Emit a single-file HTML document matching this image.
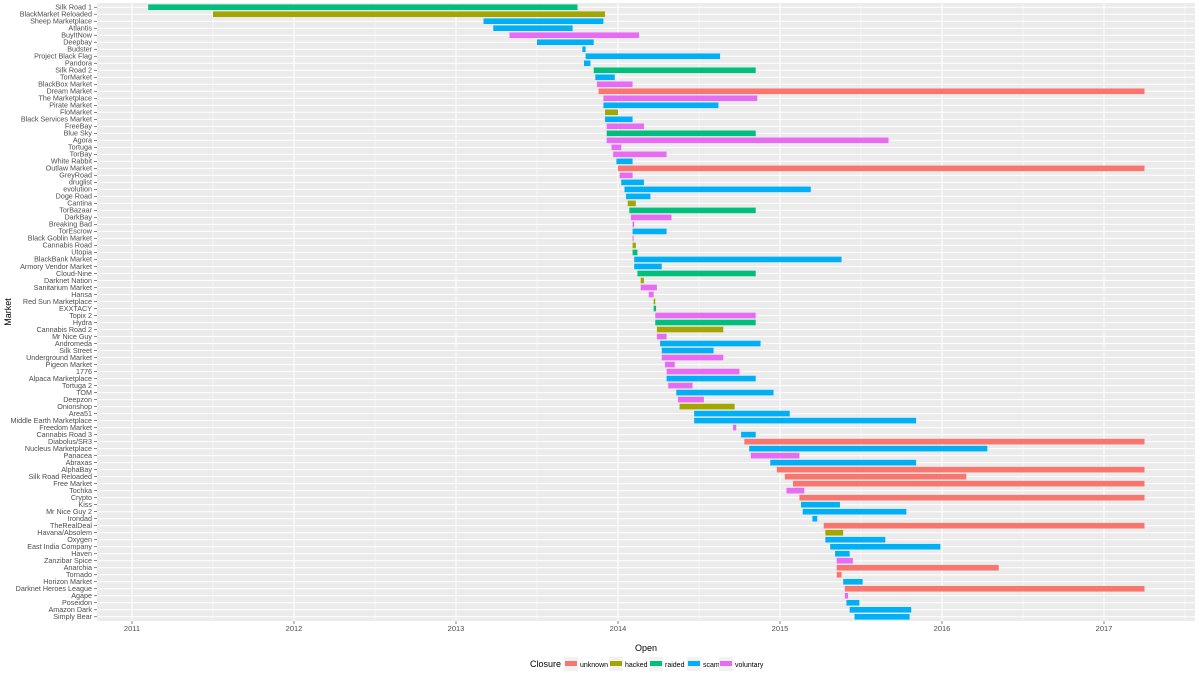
<!DOCTYPE html>
<html><head><meta charset="utf-8"><style>
body{margin:0;background:#fff;font-family:"Liberation Sans",sans-serif}
svg text{font-family:"Liberation Sans",sans-serif}
</style></head><body>
<svg id="chart" width="1200" height="680" xmlns="http://www.w3.org/2000/svg"></svg>
<script>
const markets=["Silk Road 1","BlackMarket Reloaded","Sheep Marketplace","Atlantis","BuyItNow","Deepbay","Budster","Project Black Flag","Pandora","Silk Road 2","TorMarket","BlackBox Market","Dream Market","The Marketplace","Pirate Market","FloMarket","Black Services Market","FreeBay","Blue Sky","Agora","Tortuga","TorBay","White Rabbit","Outlaw Market","GreyRoad","druglist","evolution","Doge Road","Cantina","TorBazaar","DarkBay","Breaking Bad","TorEscrow","Black Goblin Market","Cannabis Road","Utopia","BlackBank Market","Armory Vendor Market","Cloud-Nine","Darknet Nation","Sanitarium Market","Hansa","Red Sun Marketplace","EXXTACY","Topix 2","Hydra","Cannabis Road 2","Mr Nice Guy","Andromeda","Silk Street","Underground Market","Pigeon Market","1776","Alpaca Marketplace","Tortuga 2","TOM","Deepzon","Onionshop","Area51","Middle Earth Marketplace","Freedom Market","Cannabis Road 3","Diabolus/SR3","Nucleus Marketplace","Panacea","Abraxas","AlphaBay","Silk Road Reloaded","Free Market","Tochka","Crypto","Kiss","Mr Nice Guy 2","Irondad","TheRealDeal","Havana/Absolem","Oxygen","East India Company","Haven","Zanzibar Spice","Anarchia","Tornado","Horizon Market","Darknet Heroes League","Agape","Poseidon","Amazon Dark","Simply Bear"];
const openYear=[2011.10,2011.50,2013.17,2013.23,2013.33,2013.50,2013.78,2013.80,2013.79,2013.85,2013.86,2013.87,2013.88,2013.91,2013.91,2013.92,2013.92,2013.93,2013.93,2013.93,2013.96,2013.97,2013.99,2014.00,2014.01,2014.02,2014.04,2014.05,2014.06,2014.07,2014.08,2014.09,2014.09,2014.09,2014.09,2014.09,2014.10,2014.10,2014.12,2014.14,2014.14,2014.19,2014.22,2014.22,2014.23,2014.23,2014.24,2014.24,2014.26,2014.27,2014.27,2014.29,2014.30,2014.30,2014.31,2014.36,2014.37,2014.38,2014.47,2014.47,2014.71,2014.76,2014.78,2014.81,2014.82,2014.94,2014.98,2015.03,2015.08,2015.04,2015.12,2015.13,2015.14,2015.20,2015.27,2015.28,2015.28,2015.31,2015.34,2015.35,2015.35,2015.35,2015.39,2015.40,2015.40,2015.41,2015.43,2015.46];
const closeYear=[2013.75,2013.92,2013.91,2013.72,2014.13,2013.85,2013.80,2014.63,2013.83,2014.85,2013.98,2014.09,2017.25,2014.86,2014.62,2014.00,2014.09,2014.16,2014.85,2015.67,2014.02,2014.30,2014.09,2017.25,2014.09,2014.16,2015.19,2014.20,2014.11,2014.85,2014.33,2014.10,2014.30,2014.095,2014.11,2014.12,2015.38,2014.27,2014.85,2014.16,2014.24,2014.22,2014.23,2014.235,2014.85,2014.85,2014.65,2014.30,2014.88,2014.59,2014.65,2014.35,2014.75,2014.85,2014.46,2014.96,2014.53,2014.72,2015.06,2015.84,2014.73,2014.85,2017.25,2016.28,2015.12,2015.84,2017.25,2016.15,2017.25,2015.15,2017.25,2015.37,2015.78,2015.23,2017.25,2015.39,2015.65,2015.99,2015.43,2015.45,2016.35,2015.38,2015.51,2017.25,2015.42,2015.49,2015.81,2015.80];
const closure=["raided","hacked","scam","scam","voluntary","scam","scam","scam","scam","raided","scam","voluntary","unknown","voluntary","scam","hacked","scam","voluntary","raided","voluntary","voluntary","voluntary","scam","unknown","voluntary","scam","scam","scam","hacked","raided","voluntary","voluntary","scam","voluntary","hacked","raided","scam","scam","raided","hacked","voluntary","voluntary","hacked","raided","voluntary","raided","hacked","voluntary","scam","scam","voluntary","voluntary","voluntary","scam","voluntary","scam","voluntary","hacked","scam","scam","voluntary","scam","unknown","scam","voluntary","scam","unknown","unknown","unknown","voluntary","unknown","scam","scam","scam","unknown","hacked","scam","scam","scam","voluntary","unknown","unknown","scam","unknown","voluntary","scam","scam","scam"];
const closureTypes=["unknown","hacked","raided","scam","voluntary"];
const tickYears=[2011,2012,2013,2014,2015,2016,2017];

const colors={unknown:"#F8766D",hacked:"#A3A500",raided:"#00BF7D",scam:"#00B0F6",voluntary:"#E76BF3"};
const svg=document.getElementById('chart');
const NS="http://www.w3.org/2000/svg";
function mk(tag,attrs,parent){const e=document.createElementNS(NS,tag);for(const k in attrs)e.setAttribute(k,attrs[k]);(parent||svg).appendChild(e);return e;}
const PL=97,PR=1195,PT=3,PB=621;
const x=v=>132+(v-2011)*162;
const rowStep=(PB-PT)/(markets.length+0.2);
const y=i=>PT+rowStep*(i+0.6);

const panel=mk('rect',{x:PL,y:PT,width:PR-PL,height:PB-PT,fill:'#EBEBEB'});


for(let t=2010.5;t<=2017.5;t+=0.5){const px=x(t);if(px<PL||px>PR)continue;
 const major=Number.isInteger(t);
 const g=mk('line',{x1:px,x2:px,y1:PT,y2:PB,stroke:'#fff','stroke-width':major?1.1:0.5});
 
 }
markets.forEach((m,i)=>{const g=mk('line',{x1:PL,x2:PR,y1:y(i),y2:y(i),stroke:'#fff','stroke-width':1});
 
 });
markets.forEach((m,i)=>{
 const x0=x(openYear[i]),x1=x(closeYear[i]);
 const r=mk('rect',{x:x0,y:y(i)-2.8,width:Math.max(1,x1-x0),height:5.6,fill:colors[closure[i]]});
 
 
 const t=mk('text',{x:PL-5,y:y(i)+2.3,'text-anchor':'end','font-size':7.2,fill:'#4D4D4D'});
 t.textContent=m;
 
 
 mk('line',{x1:PL-3,x2:PL,y1:y(i),y2:y(i),stroke:'#333','stroke-width':0.6});
});
tickYears.forEach(v=>{
 mk('line',{x1:x(v),x2:x(v),y1:PB,y2:PB+3,stroke:'#333','stroke-width':0.6});
 const t=mk('text',{x:x(v),y:PB+10,'text-anchor':'middle','font-size':7.5,fill:'#4D4D4D'});
 t.textContent=v;
 
 
});
let t=mk('text',{x:(PL+PR)/2,y:651,'text-anchor':'middle','font-size':9,fill:'#000'});t.textContent='Open';


t=mk('text',{x:11,y:(PT+PB)/2,'text-anchor':'middle','font-size':9,fill:'#000',transform:`rotate(-90 11 ${(PT+PB)/2})`});t.textContent='Market';


t=mk('text',{x:530,y:667,'font-size':9,fill:'#000'});t.textContent='Closure';


const lx=[564,609,649,687,719];
closureTypes.forEach((c,i)=>{
 const g=mk('g',{});
 
 
 mk('rect',{x:lx[i],y:657,width:14,height:14,fill:'#F2F2F2'},g);
 mk('rect',{x:lx[i]+1,y:661,width:12,height:5,fill:colors[c]},g);
 const tt=mk('text',{x:lx[i]+16,y:667,'font-size':7,fill:'#000'},g);tt.textContent=c;
});
</script>
</body></html>
